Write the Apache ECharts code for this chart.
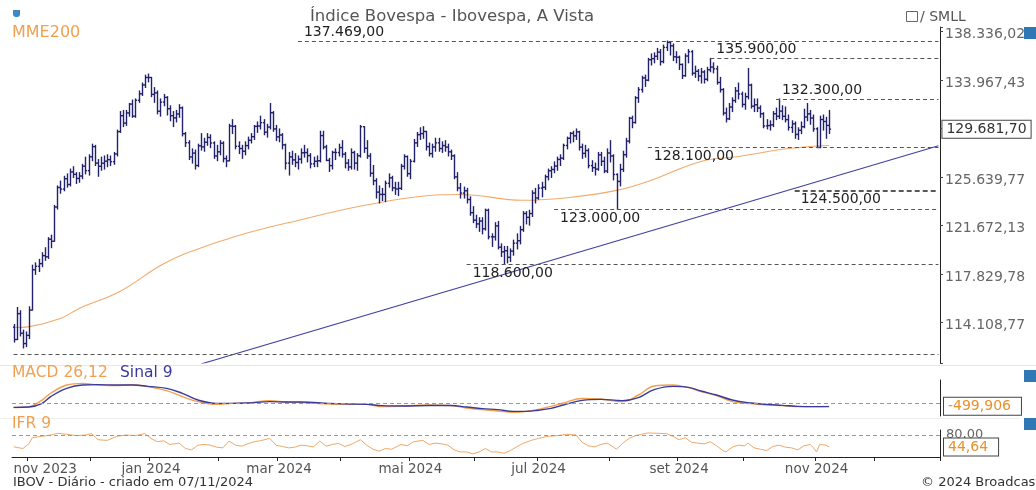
<!DOCTYPE html>
<html><head><meta charset="utf-8">
<script src="https://cdn.jsdelivr.net/npm/echarts@6/dist/echarts.min.js"></script>
<style>html,body{margin:0;padding:0;background:#fff}#c{width:1036px;height:490px}</style>
</head><body><div id="c"></div>
<script>
// ---------- calendar ----------
const START_DATE = '2023-10-25';
const HOLIDAYS = ['2023-11-02','2023-11-15','2023-12-25','2023-12-29','2024-01-01','2024-02-12','2024-02-13','2024-03-29','2024-05-01','2024-05-30','2024-11-15','2024-11-20','2024-12-24','2024-12-25','2024-12-31','2025-01-01'];
const SLOT_COUNT = 297;
const MONTHS_PT = ['jan','fev','mar','abr','mai','jun','jul','ago','set','out','nov','dez'];

// ---------- daily OHLC (IBOV) ----------
const opens = [113760,112830,114780,113300,112530,113140,115050,118160,118430,118640,119270,119180,120570,120410,123170,124770,124640,125500,125020,126060,125860,125520,125720,126540,126170,127330,128190,126800,126530,126790,126960,127090,126920,127570,129470,130840,130200,131080,131850,130800,132180,132750,133530,134190,134190,132700,132830,131230,132020,132430,131450,130840,130650,130990,131520,129290,128520,127320,127640,126600,128260,128170,128560,128970,128500,127400,127750,128480,127180,126990,129950,129920,128220,128030,127800,128280,128730,129040,129920,129950,130240,129420,129860,131100,129700,129020,129180,128340,126800,127320,127070,126850,127130,127670,127690,127430,126740,126950,127000,129130,128160,127030,126590,127700,127690,128110,127550,126800,126480,127690,126800,127420,129890,128050,127400,125950,125330,124390,124200,124200,125120,125570,124740,124650,124700,126530,127350,125920,126950,128510,129210,129300,129480,128190,127600,128160,128510,128030,128280,128150,127750,127410,125650,124730,124310,124500,123780,122710,122100,121800,122030,121410,122900,120770,120760,121640,119940,119570,119660,119140,119630,120260,120450,121340,122640,122330,122640,124310,123910,124720,124790,125660,126160,126270,126550,127110,127220,128290,128900,129320,129110,129450,128150,127620,127860,126590,126420,126300,127490,126950,126140,127650,127400,125850,125270,126270,127510,128660,130620,130250,132400,133120,134150,133950,135780,135870,136090,136460,135610,136890,137340,137030,136040,136000,135350,134350,136110,136500,134570,134740,134320,134680,134030,134880,135120,134960,133750,133120,131070,130570,131590,132160,133010,132730,131820,132500,133520,131670,131790,131510,131010,129960,129990,130050,131010,130790,131240,130790,130500,129830,130140,129230,129580,129890,130730,131000,130640,129710,128120,130510,130340,130000];
const highs = [113960,115250,115000,113530,113400,115300,118520,118700,118980,119500,119900,120700,120900,123300,124900,125300,125700,125900,126300,126500,126000,126000,126700,127300,127500,128400,128300,127100,127300,127400,127500,127400,127700,129600,131200,131300,131300,131900,132200,132300,133000,133700,134400,134500,134200,133300,133000,132300,132700,132500,131700,131200,131300,131800,131600,129400,128700,128000,127900,128400,129300,128900,129300,129200,128600,128300,128700,128600,127400,130100,130500,130000,128600,128300,128600,129000,129300,130000,130300,130800,130500,130100,131900,131200,130000,129700,129300,128400,127700,127800,127600,127400,128000,128300,128000,127600,127300,127400,129500,129500,128300,127200,127800,128000,128400,128700,127700,127100,128000,127800,127600,130000,129900,128700,127600,126600,125500,124900,124700,125300,125900,125700,125200,125200,126700,127500,127400,127100,128800,129400,129800,129900,129500,128500,128400,128900,128900,128600,128700,128400,127900,127500,126000,125100,124800,124700,124000,123200,122500,122300,122300,123000,123000,121000,121900,122000,120200,120000,120000,119800,120500,121000,121600,122800,122800,122900,124500,124700,125000,125200,125800,126300,126500,126900,127300,127500,128400,129000,129400,129500,129700,129500,128400,128300,128000,127000,126800,127700,127700,127300,128000,128700,127500,125900,126700,127800,128900,130700,130800,132500,133300,134300,134400,135900,136300,136400,136800,136700,137100,137470,137400,137200,136500,136100,135400,136300,136700,136600,135200,134900,135000,134800,135100,135900,135500,135200,134200,133200,131500,131900,132400,133300,133700,132900,132800,135000,133600,132300,132300,131700,131100,130500,130400,131200,131500,132300,131700,131600,130900,130400,130300,129800,130300,131400,131900,131300,130900,129800,130800,130900,130700,131300];
const lows = [112640,112830,113100,112200,112300,112900,115050,117800,118020,118400,118900,119050,119900,120410,123000,124300,124500,124800,124900,125600,125100,125200,125500,125900,125800,127000,126600,125700,126200,126300,126500,126600,126700,127400,129400,129900,130000,130800,130700,130700,132000,132600,133300,133800,132500,132000,131000,130800,131700,130900,130400,129900,130300,130700,129100,128200,127100,126800,126300,126500,127900,127800,128300,128100,127200,127000,127500,126900,126500,126990,129300,128000,127600,127200,127500,128000,128500,128800,129400,129700,129200,129000,129700,129500,128700,128600,128000,126300,125800,126700,126500,126300,126800,127300,126900,126400,126500,126500,126900,128000,127000,126100,126300,127100,127400,127300,126400,126200,126300,126300,126200,127300,127700,127200,125700,125000,123900,123500,123700,123600,124800,124500,124200,124100,124600,126300,125700,125500,126900,128200,128800,128900,127900,127400,127300,127800,127800,127700,127800,127400,127100,125500,124500,123900,123900,123500,122500,121900,121500,121200,121000,121300,120600,120000,120500,119800,119200,118600,118700,118800,119300,119800,120200,121200,121800,121700,122400,123500,123800,124000,124600,125400,125600,126000,126200,126600,127100,128000,128500,128600,128800,127900,127200,127300,126400,126100,125800,126200,126600,126000,126000,126900,125400,123000,124900,126100,127300,128500,129800,130200,132000,132900,133400,133900,135300,135500,135800,135300,135500,136600,136200,135700,135500,134900,134100,134300,135500,134400,134200,133900,133700,133700,133900,134700,134600,133600,132900,130900,130300,130500,131200,132000,132300,131600,131400,132300,131500,131200,131200,130700,129800,129700,129600,129900,130500,130600,130500,130300,129600,129400,128900,128800,129300,129800,130400,130100,129500,128100,128100,129600,128900,129300];
const closes = [112830,114780,113300,112530,113140,115050,118160,118430,118640,119270,119180,120570,120410,123170,124770,124640,125500,125020,126060,125860,125520,125720,126540,126170,127330,128190,126800,126530,126790,126960,127090,126920,127570,129470,130840,130200,131080,131850,130800,132180,132750,133530,134190,134190,132700,132830,131230,132020,132430,131450,130840,130650,130990,131520,129290,128520,127320,127640,126600,128260,128170,128560,128970,128500,127400,127750,128480,127180,126990,129950,129920,128220,128030,127800,128280,128730,129040,129920,129950,130240,129420,129860,131100,129700,129020,129180,128340,126800,127320,127070,126850,127130,127670,127690,127430,126740,126950,127000,129130,128160,127030,126590,127700,127690,128110,127550,126800,126480,127690,126800,127420,129890,128050,127400,125950,125330,124390,124200,124200,125120,125570,124740,124650,124700,126530,127350,125920,126950,128510,129210,129300,129480,128190,127600,128160,128510,128030,128280,128150,127750,127410,125650,124730,124310,124500,123780,122710,122100,121800,122030,121410,122900,120770,120760,121640,119940,119570,119660,119140,119630,120260,120450,121340,122640,122330,122640,124310,123910,124720,124790,125660,126160,126270,126550,127110,127220,128290,128900,129320,129110,129450,128150,127620,127860,126590,126420,126300,127490,126950,126140,127650,127400,125850,125270,126270,127510,128660,130620,130250,132400,133120,134150,133950,135780,135870,136090,136460,135610,136890,137340,137030,136040,136000,135350,134350,136110,136500,134570,134740,134320,134680,134030,134880,135120,134960,133750,133120,131070,130570,131590,132160,133010,132730,131820,132500,133520,131670,131790,131510,131010,129960,129990,130050,131010,130790,131240,130790,130500,129830,130140,129230,129580,129890,130730,131000,130640,129710,128120,130510,130340,130000,129682];

// ---------- indicators ([bar index, value]) ----------
const mme200 = [[0,113730],[5,113800],[15,114410],[21,115170],[34,116480],[47,118490],[55,119440],[72,120870],[91,122080],[112,123290],[133,124110],[143,124190],[163,123720],[178,123950],[193,124530],[203,125270],[220,126940],[232,127360],[248,128030],[261,128290]];
const trendLine = [[60,111017],[296,128268]];
const macd = [[0,-700],[5,-550],[9,400],[12,1500],[17,2700],[22,2950],[27,2700],[33,2600],[38,2750],[43,2450],[49,1850],[54,950],[59,200],[65,-200],[70,-50],[75,0],[82,350],[88,100],[92,75],[101,-150],[108,-200],[113,-200],[118,-550],[125,-450],[133,-300],[140,-400],[145,-750],[150,-1000],[155,-1200],[160,-1400],[164,-1250],[167,-1050],[172,-500],[176,0],[182,675],[188,600],[193,250],[195,225],[200,1200],[205,2550],[211,2700],[216,2300],[220,1700],[225,1100],[230,200],[236,-100],[241,-300],[246,-400],[251,-550],[256,-550],[261,-500]];
const sinal = [[0,-650],[5,-600],[9,-100],[12,1000],[17,2200],[22,2700],[27,2750],[33,2700],[38,2700],[43,2500],[49,2200],[54,1450],[59,450],[65,-50],[70,-50],[75,0],[82,200],[88,150],[92,150],[101,-50],[108,-150],[113,-200],[118,-400],[125,-450],[133,-380],[140,-380],[145,-600],[150,-850],[155,-1000],[160,-1250],[164,-1250],[167,-1150],[172,-800],[176,-300],[182,400],[188,550],[193,400],[195,350],[200,800],[205,2000],[211,2500],[216,2350],[220,1800],[225,1200],[230,450],[236,0],[241,-200],[246,-350],[251,-500],[256,-550],[261,-550]];
const ifr = [[0,45],[3,40],[5,55],[6,72],[9,76],[12,80],[14,85],[17,82],[20,78],[23,80],[25,84],[27,66],[30,64],[33,76],[36,80],[39,78],[42,84],[44,70],[46,60],[48,63],[50,52],[53,56],[55,40],[57,36],[59,50],[61,52],[63,50],[65,44],[67,42],[69,62],[71,50],[73,47],[75,54],[77,60],[79,63],[82,70],[84,50],[86,46],[88,42],[90,44],[92,50],[94,48],[96,45],[98,62],[100,47],[102,52],[104,55],[106,46],[108,52],[111,66],[113,50],[115,38],[117,32],[119,40],[121,38],[124,52],[126,48],[128,60],[131,64],[133,52],[135,56],[137,54],[139,50],[141,36],[143,30],[145,30],[147,24],[149,30],[151,40],[153,30],[155,30],[157,26],[159,34],[161,45],[163,55],[166,65],[168,70],[171,76],[174,78],[177,82],[180,80],[182,58],[184,48],[186,45],[188,52],[190,56],[192,44],[193,38],[195,56],[197,70],[199,78],[201,82],[203,86],[206,85],[209,84],[211,76],[213,66],[215,72],[217,58],[219,56],[221,54],[223,60],[225,48],[227,34],[228,30],[230,44],[232,50],[234,48],[235,56],[237,42],[239,38],[241,34],[243,46],[245,50],[247,44],[249,42],[251,36],[253,48],[255,52],[256,42],[257,30],[258,52],[260,50],[261,44.64]];

// ---------- levels and labels ----------
const levelValues = [137469, 135900, 132300, 128100, 124500, 123000, 118600, 111720];
const levelLabels = ['137.469,00','135.900,00','132.300,00','128.100,00','124.500,00','123.000,00','118.600,00',''];
const levelStart  = [91, 223, 244, 203, 250, 173, 145, 0];
const levelAbove  = [true, true, true, false, false, false, false, false];
const yTickValues = [114108.77, 117829.78, 121672.13, 125639.77, 129736.80, 133967.43, 138336.02];
const yTickLabels = ['114.108,77','117.829,78','121.672,13','125.639,77','','133.967,43','138.336,02'];
const LAST_PRICE = 129681.70, LAST_PRICE_LABEL = '129.681,70';
const MACD_LAST = -499.906, MACD_LAST_LABEL = '-499,906';
const IFR_LAST = 44.64, IFR_LAST_LABEL = '44,64';

// ---------- build ----------
function tradingDays(start, count) {
  const out = []; const d = new Date(start + 'T00:00:00Z');
  while (out.length < count) {
    const wd = d.getUTCDay(); const s = d.toISOString().slice(0, 10);
    if (wd !== 0 && wd !== 6 && HOLIDAYS.indexOf(s) < 0) out.push(s);
    d.setUTCDate(d.getUTCDate() + 1);
  }
  return out;
}
const categories = tradingDays(START_DATE, SLOT_COUNT);
const LAST_SLOT = SLOT_COUNT - 1;
const isMonthStart = (i) => i > 0 && i < 290 && categories[i].slice(0, 7) !== categories[i - 1].slice(0, 7);
const FONT = 'DejaVu Sans';
const LOG_BASE = Math.exp(Math.log(yTickValues[0]) / 363);
const ohlc = closes.map((c, i) => [i, opens[i], highs[i], lows[i], c]);
const BAR = '#22226c';
const CLEAR = 'rgba(0,0,0,0)';

function renderOHLC(params, api) {
  const i = api.value(0);
  const pH = api.coord([i, api.value(2)]), pL = api.coord([i, api.value(3)]);
  const pO = api.coord([i, api.value(1)]), pC = api.coord([i, api.value(4)]);
  const x = Math.round(pH[0]) + 0.5, w = 1.6;
  const st = { stroke: BAR, lineWidth: 1.4 };
  return { type: 'group', children: [
    { type: 'line', shape: { x1: x, y1: pH[1] - 0.5, x2: x, y2: pL[1] + 0.5 }, style: st },
    { type: 'line', shape: { x1: x - w, y1: pO[1], x2: x, y2: pO[1] }, style: st },
    { type: 'line', shape: { x1: x, y1: pC[1], x2: x + w, y2: pC[1] }, style: st }
  ] };
}

const levelLines = levelValues.map((v, k) => [
  { coord: [levelStart[k], v],
    lineStyle: k === 4 ? { color: '#222', width: 1.5, type: [5, 3] } : undefined,
    label: { show: !!levelLabels[k], formatter: levelLabels[k],
      position: levelAbove[k] ? 'insideStartTop' : 'insideStartBottom' } },
  { coord: [LAST_SLOT, v] }
]);

const boxLabel = (txt, color, pr) => ({ show: true, position: 'end', formatter: txt, color: color,
  fontFamily: FONT, fontSize: 14, backgroundColor: '#fff', borderColor: '#444', borderWidth: 1,
  padding: [2, pr, 1, 4], distance: 4 });

const grids = [
  { left: 12, width: 928, top: 27, height: 336 },
  { left: 12, width: 928, top: 380, height: 36 },
  { left: 12, width: 928, top: 430, height: 27 }
];
const hiddenX = (g) => ({ type: 'category', gridIndex: g, data: categories, boundaryGap: true,
  axisLine: { show: false }, axisTick: { show: false }, axisLabel: { show: false }, splitLine: { show: false } });

const option = {
  animation: false,
  backgroundColor: '#fff',
  grid: grids,
  xAxis: [hiddenX(0), hiddenX(1), {
    type: 'category', gridIndex: 2, data: categories, boundaryGap: true,
    axisLine: { show: true, lineStyle: { color: '#222', width: 1 } },
    axisTick: { show: true, length: 4, lineStyle: { color: '#222' }, interval: (i) => isMonthStart(i) },
    axisLabel: { show: true, color: '#555', fontFamily: FONT, fontSize: 13.5, margin: 5,
      interval: (i) => isMonthStart(i) && (parseInt(categories[i].slice(5, 7), 10) % 2 === 1),
      formatter: (val, i) => {
        const t = MONTHS_PT[parseInt(val.slice(5, 7), 10) - 1] + ' ' + val.slice(0, 4);
        return i < 20 ? '{f|' + t + '}' : t;
      },
      rich: { f: { padding: [0, 0, 0, 32], color: '#555', fontFamily: FONT, fontSize: 13.5 } } },
    splitLine: { show: false }
  }],
  yAxis: [
    { type: 'log', logBase: LOG_BASE, gridIndex: 0, position: 'right', min: 111091, max: 138749,
      axisLine: { show: true, lineStyle: { color: '#222', width: 1 } },
      axisTick: { show: true, length: 3, lineStyle: { color: '#444' } },
      splitLine: { show: false },
      axisLabel: { color: '#666', fontFamily: FONT, fontSize: 14, margin: 5, verticalAlign: 'top', lineHeight: 6,
        formatter: (v) => { for (let k = 0; k < yTickValues.length; k++) if (Math.abs(v / yTickValues[k] - 1) < 0.001) return yTickLabels[k]; return ''; } } },
    { type: 'value', gridIndex: 1, position: 'right', min: -1950, max: 3450,
      axisLine: { show: true, lineStyle: { color: '#222' } }, axisTick: { show: false },
      axisLabel: { show: false }, splitLine: { show: false } },
    { type: 'value', gridIndex: 2, position: 'right', min: 15, max: 94.7,
      axisLine: { show: true, lineStyle: { color: '#222' } }, axisTick: { show: false },
      axisLabel: { show: false }, splitLine: { show: false } }
  ],
  series: [
    { name: 'MME200', type: 'line', xAxisIndex: 0, yAxisIndex: 0, data: mme200, smooth: 0.4,
      showSymbol: false, lineStyle: { color: '#f3aa6a', width: 1.1 }, z: 2, silent: true },
    { name: 'LTA', type: 'line', xAxisIndex: 0, yAxisIndex: 0, data: trendLine, showSymbol: false,
      lineStyle: { color: '#4040a0', width: 1.1 }, z: 2, silent: true, clip: true },
    { name: 'IBOV', type: 'custom', xAxisIndex: 0, yAxisIndex: 0, data: ohlc, renderItem: renderOHLC,
      encode: { x: 0, y: [1, 2, 3, 4] }, clip: true, z: 3, silent: true,
      markLine: { silent: true, symbol: ['none', 'none'], animation: false,
        lineStyle: { type: [4, 3], color: '#555', width: 1 },
        label: { color: '#222', fontFamily: FONT, fontSize: 14, distance: [6, 2] },
        data: levelLines.concat([[
          { coord: [0, LAST_PRICE], lineStyle: { color: CLEAR, width: 1 }, label: boxLabel(LAST_PRICE_LABEL, '#333', 4) },
          { coord: [LAST_SLOT, LAST_PRICE] }
        ]]) } },
    { name: 'MACD 26,12', type: 'line', xAxisIndex: 1, yAxisIndex: 1, data: macd, smooth: 0.4,
      showSymbol: false, lineStyle: { color: '#f0a050', width: 1.4 }, z: 3, silent: true,
      markLine: { silent: true, symbol: ['none', 'none'], animation: false,
        data: [
          { yAxis: 0, lineStyle: { type: [4, 3], color: '#999', width: 1 }, label: { show: false } },
          { yAxis: MACD_LAST, lineStyle: { color: CLEAR, width: 1 }, label: boxLabel(MACD_LAST_LABEL, '#e8902a', 10) }
        ] } },
    { name: 'Sinal 9', type: 'line', xAxisIndex: 1, yAxisIndex: 1, data: sinal, smooth: 0.4,
      showSymbol: false, lineStyle: { color: '#3a3a9c', width: 1.4 }, z: 4, silent: true },
    { name: 'IFR 9', type: 'line', xAxisIndex: 2, yAxisIndex: 2, data: ifr,
      showSymbol: false, lineStyle: { color: '#f0a868', width: 1 }, z: 3, silent: true,
      markLine: { silent: true, symbol: ['none', 'none'], animation: false,
        data: [
          { yAxis: 80, lineStyle: { type: [4, 3], color: '#999', width: 1 },
            label: { show: true, position: 'end', formatter: '80,00', color: '#666', fontFamily: FONT, fontSize: 13, distance: 6 } },
          { yAxis: IFR_LAST, lineStyle: { color: CLEAR, width: 1 }, label: boxLabel(IFR_LAST_LABEL, '#e8902a', 10) }
        ] } }
  ],
  graphic: [
    { type: 'text', x: 452, y: 17, style: { text: 'Índice Bovespa - Ibovespa, A Vista', fill: '#555', font: '16.5px "DejaVu Sans"', align: 'center', verticalAlign: 'middle' } },
    { type: 'rect', shape: { x: 13, y: 10, width: 7, height: 7, r: [0, 0, 3, 3] }, style: { fill: '#3a88c8' } },
    { type: 'text', x: 12, y: 33, style: { text: 'MME200', fill: '#f0a050', font: '16px "DejaVu Sans"', verticalAlign: 'middle' } },
    { type: 'rect', shape: { x: 906.5, y: 11.5, width: 11, height: 10 }, style: { fill: 'none', stroke: '#666', lineWidth: 1 } },
    { type: 'text', x: 920, y: 17, style: { text: '/ SMLL', fill: '#555', font: '14px "DejaVu Sans"', verticalAlign: 'middle' } },
    { type: 'rect', shape: { x: 1024, y: 27, width: 12, height: 12 }, style: { fill: '#2f78b5' } },
    { type: 'rect', shape: { x: 1024, y: 370, width: 12, height: 12 }, style: { fill: '#2f78b5' } },
    { type: 'rect', shape: { x: 1024, y: 418, width: 12, height: 12 }, style: { fill: '#2f78b5' } },
    { type: 'line', shape: { x1: 0, y1: 365.5, x2: 1036, y2: 365.5 }, style: { stroke: '#e6e6e6', lineWidth: 1 } },
    { type: 'line', shape: { x1: 0, y1: 418.5, x2: 1020, y2: 418.5 }, style: { stroke: '#eeeeee', lineWidth: 1 } },
    { type: 'text', x: 12, y: 373, style: { text: 'MACD 26,12', fill: '#f0a050', font: '15.5px "DejaVu Sans"', verticalAlign: 'middle' } },
    { type: 'text', x: 120, y: 373, style: { text: 'Sinal 9', fill: '#3a3a9c', font: '15.5px "DejaVu Sans"', verticalAlign: 'middle' } },
    { type: 'text', x: 12, y: 424, style: { text: 'IFR 9', fill: '#f0a050', font: '15.5px "DejaVu Sans"', verticalAlign: 'middle' } },
    { type: 'text', x: 13, y: 483, style: { text: 'IBOV - Diário - criado em 07/11/2024', fill: '#333', font: '13px "DejaVu Sans"', verticalAlign: 'middle' } },
    { type: 'text', x: 921, y: 483, style: { text: '© 2024 Broadcast', fill: '#333', font: '13px "DejaVu Sans"', verticalAlign: 'middle' } }
  ]
};
const chart = echarts.init(document.getElementById('c'), null, { renderer: 'canvas', width: 1036, height: 490 });
chart.setOption(option);
</script>
</body></html>
